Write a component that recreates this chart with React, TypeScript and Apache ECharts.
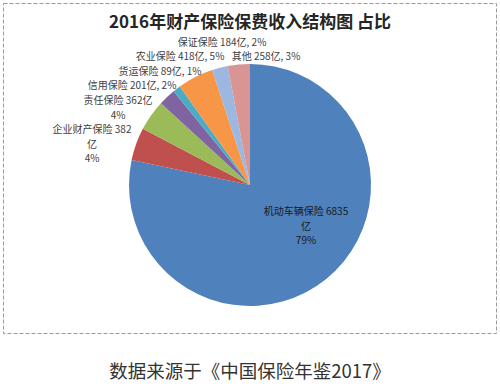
import React, { useEffect, useRef } from "react";
import * as echarts from "echarts";

const TITLE = "2016年财产保险保费收入结构图 占比";
const SOURCE = "数据来源于《中国保险年鉴2017》";
const categories = ["机动车辆保险", "企业财产保险", "责任保险", "信用保险", "货运保险", "农业保险", "保证保险", "其他"];
const values = [6835, 382, 362, 201, 89, 418, 184, 258];
const percents = ["79%", "4%", "4%", "2%", "1%", "5%", "2%", "3%"];
const colors = ["#4F81BD", "#C0504D", "#9BBB59", "#8064A2", "#4BACC6", "#F79646", "#9DB8E0", "#D99594"];

// label text templates (line wrapping as in the original figure)
const labelTemplates = [
  "{n} {v}\n亿\n{p}",
  "{n} {v}\n亿\n{p}",
  "{n} {v}亿\n{p}",
  "{n} {v}亿, {p}",
  "{n} {v}亿, {p}",
  "{n} {v}亿, {p}",
  "{n} {v}亿, {p}",
  "{n} {v}亿, {p}",
];
// label anchor positions (layout only)
const labelPos: [number, number][] = [
  [306, 225],
  [92, 143],
  [118, 107],
  [132, 84.5],
  [160, 70],
  [180, 55.5],
  [222, 41.5],
  [266, 55.5],
];

export default function App() {
  const ref = useRef<HTMLDivElement>(null);
  useEffect(() => {
    document.body.style.margin = "0";
    const chart = echarts.init(ref.current!, null, { renderer: "svg" });
    chart.setOption({
      animation: false,
      backgroundColor: "#ffffff",
      title: [
        {
          text: TITLE,
          left: "center",
          top: 10.5,
          padding: 0,
          textStyle: { fontFamily: "Noto Sans CJK SC", fontSize: 17, lineHeight: 20, fontWeight: "bold", color: "#262626" },
        },
        {
          text: SOURCE,
          left: "center",
          top: 358,
          padding: 0,
          textStyle: { fontFamily: "Noto Sans CJK SC", fontSize: 18.5, lineHeight: 24, fontWeight: "normal", color: "#333333" },
        },
      ],
      graphic: [
        {
          type: "rect",
          shape: { x: 3.5, y: 3.5, width: 493, height: 330 },
          style: { fill: "none", stroke: "#9a9a9a", lineWidth: 1, lineDash: [4, 2] },
          silent: true,
        },
      ],
      series: [
        {
          type: "pie",
          center: [250, 185],
          radius: 121,
          startAngle: 90,
          clockwise: true,
          itemStyle: { borderWidth: 0 },
          labelLine: { show: false },
          label: {
            show: true,
            position: "outside",
            overflow: "none",
            fontFamily: "Noto Sans CJK SC",
            fontSize: 10,
            lineHeight: 14.5,
            color: "#404040",
            align: "center",
            formatter: (p: any) =>
              labelTemplates[p.dataIndex]
                .replace("{n}", categories[p.dataIndex])
                .replace("{v}", String(values[p.dataIndex]))
                .replace("{p}", percents[p.dataIndex]),
          },
          labelLayout: (p: any) => ({
            x: labelPos[p.dataIndex][0],
            y: labelPos[p.dataIndex][1],
            align: "center",
            verticalAlign: "middle",
          }),
          data: categories.map((c, i) => ({
            name: c,
            value: values[i],
            itemStyle: { color: colors[i] },
            label: i === 0 ? { color: "#1a1a1a" } : undefined,
          })),
        },
      ],
    });
    return () => chart.dispose();
  }, []);
  return <div ref={ref} style={{ width: 500, height: 386 }} />;
}
